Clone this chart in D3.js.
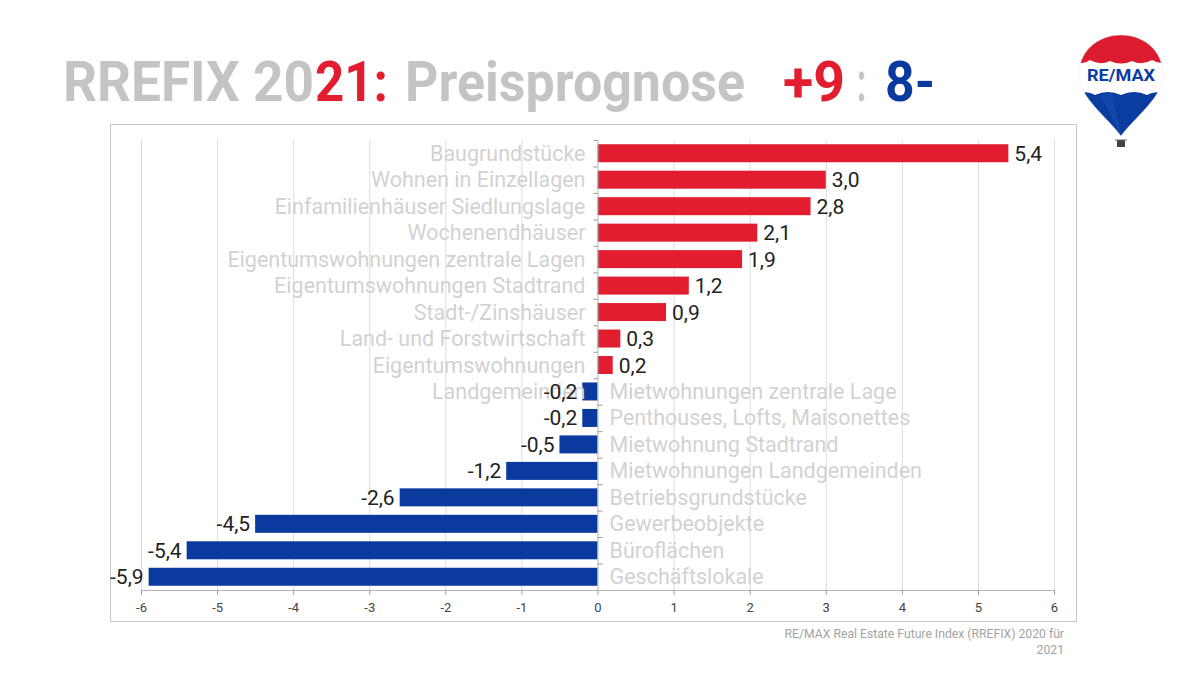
<!DOCTYPE html>
<html><head><meta charset="utf-8">
<script src="https://cdn.jsdelivr.net/npm/d3@7"></script>
<style>
html,body{margin:0;padding:0;background:#fff;}
svg{display:block;font-family:Roboto,"Noto Sans",sans-serif;}
</style></head>
<body>
<svg id="chart" width="1203" height="677"></svg>
<script>
const categories = [
  "Baugrundstücke","Wohnen in Einzellagen","Einfamilienhäuser Siedlungslage","Wochenendhäuser",
  "Eigentumswohnungen zentrale Lagen","Eigentumswohnungen Stadtrand","Stadt-/Zinshäuser",
  "Land- und Forstwirtschaft","Eigentumswohnungen Landgemeinden",
  "Mietwohnungen zentrale Lage","Penthouses, Lofts, Maisonettes","Mietwohnung Stadtrand",
  "Mietwohnungen Landgemeinden","Betriebsgrundstücke","Gewerbeobjekte","Büroflächen","Geschäftslokale"
];
const values = [5.4,3.0,2.8,2.1,1.9,1.2,0.9,0.3,0.2,-0.2,-0.2,-0.5,-1.2,-2.6,-4.5,-5.4,-5.9];
const xTicks = [-6,-5,-4,-3,-2,-1,0,1,2,3,4,5,6];
const titleParts = ["RREFIX 20","21:","Preisprognose","+9",":","8-"];
const sourceLines = ["RE/MAX Real Estate Future Index (RREFIX) 2020 für","2021"];

const RED = "#e11d2f", BLUE = "#0a3a9e", GRAY_TITLE = "#c4c4c4";
const svg = d3.select("#chart");
const loc = d3.formatLocale({decimal:",",thousands:".",grouping:[3],currency:["","€"],minus:"-"});
const fmtVal = loc.format(".1f"), fmtTick = loc.format("d");

// Title (one text element, positioned spans)
const tSpec = [
  {t:titleParts[0],x:63,w:251,c:GRAY_TITLE},
  {t:titleParts[1],x:315,w:73,c:RED},
  {t:titleParts[2],x:405,w:340,c:GRAY_TITLE},
  {t:titleParts[3],x:783,w:62,c:RED},
  {t:titleParts[4],x:857,w:9,c:GRAY_TITLE},
  {t:titleParts[5],x:885,w:50,c:BLUE}
];
svg.append("text").attr("y",101).attr("font-weight","700").attr("font-size",56)
  .selectAll("tspan").data(tSpec).join("tspan")
  .attr("x",d=>d.x).attr("fill",d=>d.c)
  .attr("textLength",d=>d.w).attr("lengthAdjust","spacingAndGlyphs")
  .text(d=>d.t);

// Outer box
svg.append("rect").attr("x",110.5).attr("y",124.5).attr("width",966).attr("height",497)
  .attr("fill","none").attr("stroke","#c6c6c6").attr("stroke-width",1);

const x = d3.scaleLinear().domain([-6,6]).range([141,1054]);
const y = d3.scaleBand().domain(categories).range([140,590]).paddingInner(0.32).paddingOuter(0.16);
const step = y.step();

// gridlines
svg.append("g").selectAll("line").data(xTicks.filter(d=>d!==0)).join("line")
  .attr("x1",d=>x(d)+0.5).attr("x2",d=>x(d)+0.5).attr("y1",140).attr("y2",590)
  .attr("stroke","#dcdcdc").attr("stroke-width",1);

// bars
const data = categories.map((c,i)=>({c,v:values[i]}));
svg.append("g").selectAll("rect").data(data).join("rect")
  .attr("x",d=>x(Math.min(0,d.v))).attr("width",d=>Math.abs(x(d.v)-x(0)))
  .attr("y",d=>y(d.c)).attr("height",y.bandwidth())
  .attr("fill",d=>d.v>=0?RED:BLUE);

// zero axis
svg.append("line").attr("x1",x(0)+0.5).attr("x2",x(0)+0.5).attr("y1",140).attr("y2",590)
  .attr("stroke","#b5b5b5");
svg.append("g").selectAll("line").data(d3.range(categories.length+1)).join("line")
  .attr("x1",i=>i<=9?x(0)-4:x(0)).attr("x2",i=>i<=9?x(0):x(0)+5)
  .attr("y1",i=>140+i*step+0.5).attr("y2",i=>140+i*step+0.5)
  .attr("stroke","#9a9a9a");

// category labels
const lab = svg.append("g").attr("font-size",21.5).attr("fill","#d2d2d2");
data.forEach(d=>{
  const cy = y(d.c)+y.bandwidth()/2;
  if(d.v>=0){
    let lines=[d.c];
    if(d.c==="Eigentumswohnungen Landgemeinden") lines=["Eigentumswohnungen","Landgemeinden"];
    lines.forEach((l,k)=>{
      lab.append("text").attr("x",x(0)-12).attr("y",cy+7.5+k*step).attr("text-anchor","end").text(l);
    });
  } else {
    lab.append("text").attr("x",x(0)+12).attr("y",cy+7.5).attr("text-anchor","start").text(d.c);
  }
});

// value labels
svg.append("g").attr("font-size",21).attr("fill","#222").selectAll("text").data(data).join("text")
  .attr("x",d=>d.v>=0?x(d.v)+6:x(d.v)-5)
  .attr("y",d=>y(d.c)+y.bandwidth()/2+7.5)
  .attr("text-anchor",d=>d.v>=0?"start":"end")
  .text(d=>fmtVal(d.v));

// bottom axis
const ax = svg.append("g").attr("transform","translate(0,590)")
  .call(d3.axisBottom(x).tickValues(xTicks).tickFormat(fmtTick).tickSize(5).tickSizeOuter(0));
ax.select(".domain").attr("stroke","#b5b5b5");
ax.selectAll(".tick line").attr("stroke","#9a9a9a");
ax.selectAll(".tick text").attr("font-size",13).attr("fill","#444").attr("font-family","Roboto").attr("dy","1.05em");

// source
svg.append("g").attr("font-size",12.2).attr("fill","#a3a3a3").attr("text-anchor","end")
  .selectAll("text").data(sourceLines).join("text")
  .attr("x",1064).attr("y",(d,i)=>638+i*16).text(d=>d);

// Logo balloon
const lg = svg.append("g");
const defs = svg.append("defs");
const bpath = "M1121,35 C1146,35 1164,53 1163,76 C1162,98 1136,116 1121,136 C1106,116 1080,98 1079,76 C1078,53 1096,35 1121,35 Z";
defs.append("clipPath").attr("id","bclip").append("path").attr("d",bpath);
const cg = lg.append("g").attr("clip-path","url(#bclip)");
cg.append("rect").attr("x",1075).attr("y",30).attr("width",95).attr("height",115).attr("fill","#fff");
cg.append("path").attr("d","M1075,30 H1170 V60 Q1162,66 1152,60 Q1142,66 1132,61 Q1121,66 1110,61 Q1100,66 1090,60 Q1082,66 1075,60 Z").attr("fill","#dc1c2e");
cg.append("path").attr("d","M1075,96 Q1085,89 1095,95 Q1108,89 1121,95 Q1134,89 1147,95 Q1157,89 1170,96 V145 H1075 Z").attr("fill","#0b3c9f");
cg.append("path").attr("d","M1100,95 Q1112,115 1121,136 Q1116,112 1112,93 Z").attr("fill","#1a4cb5").attr("opacity",0.6);
lg.append("path").attr("d",bpath).attr("fill","none").attr("stroke","#e8e8e8").attr("stroke-width",0.5);
lg.append("text").attr("x",1121).attr("y",81).attr("text-anchor","middle").attr("font-size",16)
  .attr("font-weight","700").attr("fill","#0b3c9f").attr("textLength",68).attr("lengthAdjust","spacingAndGlyphs").text("RE/MAX");
lg.append("rect").attr("x",1117).attr("y",140).attr("width",8).attr("height",7).attr("fill","#444");
lg.append("line").attr("x1",1115).attr("x2",1127).attr("y1",140).attr("y2",140).attr("stroke","#666");
</script>
</body></html>
